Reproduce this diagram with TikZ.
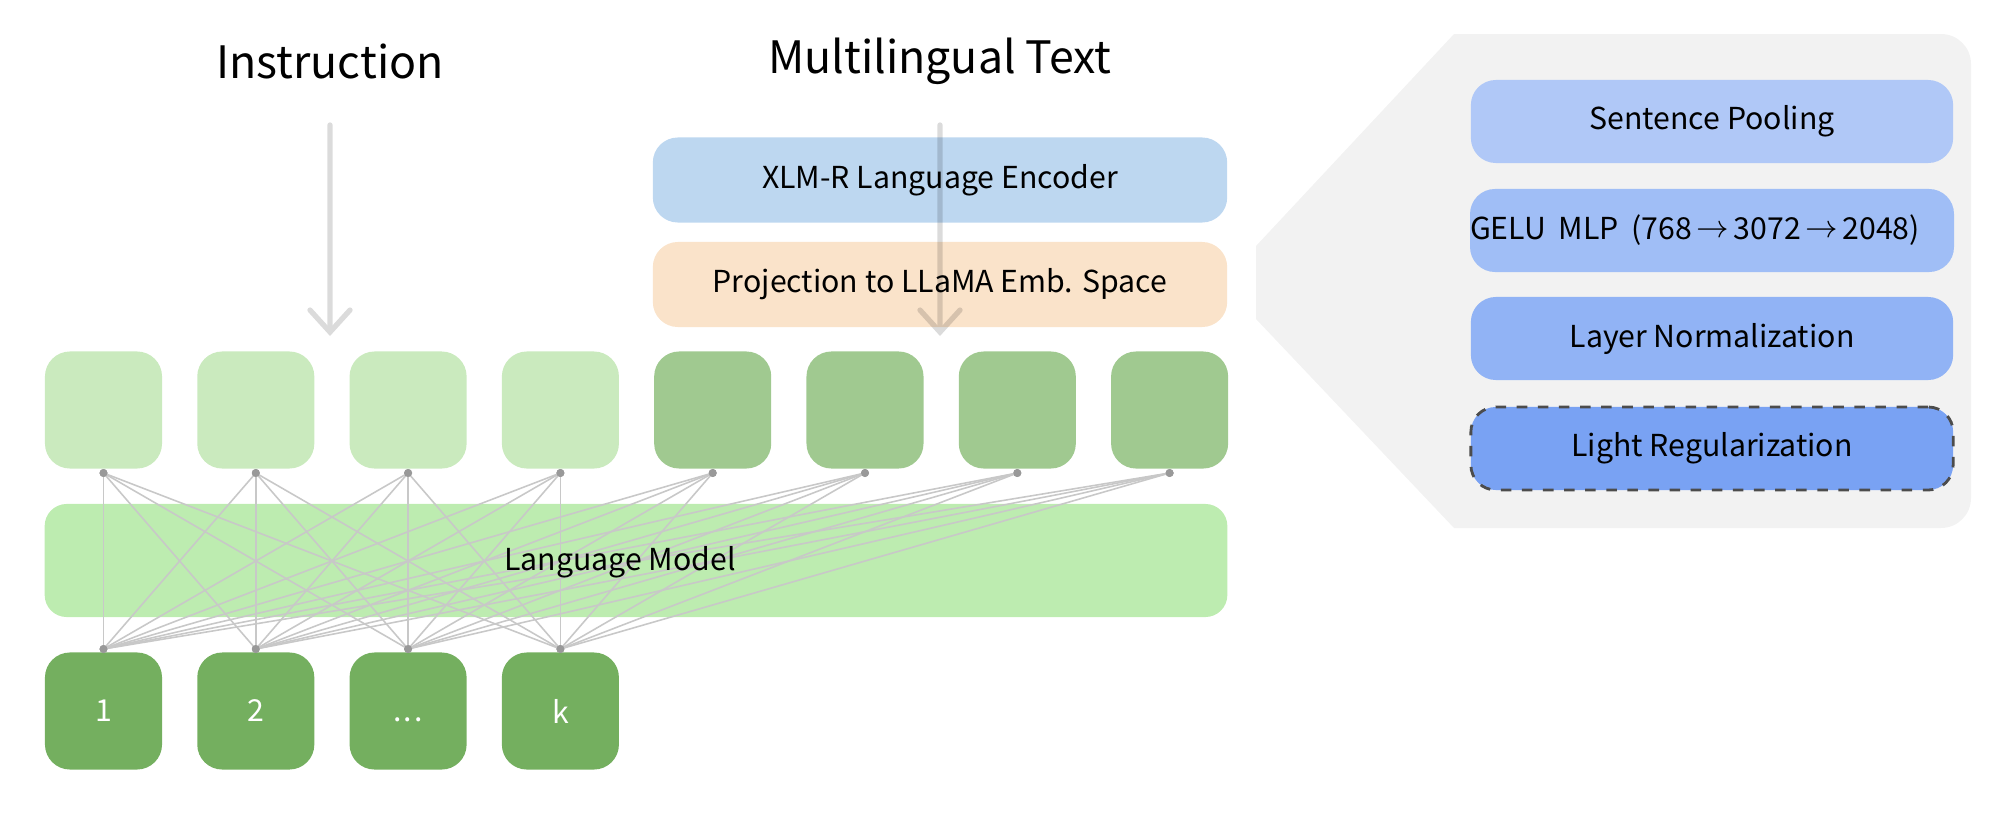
\documentclass[tikz,border=0pt]{standalone}
\usepackage{fontspec}
\setmainfont{Noto Sans CJK JP}
\usetikzlibrary{arrows.meta}
\definecolor{tokA}{HTML}{CAEABE}
\definecolor{tokB}{HTML}{A0C990}
\definecolor{tokC}{HTML}{74AF5F}
\definecolor{lmbar}{HTML}{BDECB0}
\definecolor{xlmc}{HTML}{BDD7F0}
\definecolor{projc}{HTML}{FAE3CA}
\definecolor{panelc}{HTML}{F2F2F2}
\definecolor{spc}{HTML}{B0C8F7}
\definecolor{gelc}{HTML}{A0BEF6}
\definecolor{lnc}{HTML}{91B3F5}
\definecolor{lrc}{HTML}{79A2F3}
\definecolor{linkc}{HTML}{C8C8C8}
\definecolor{dotc}{HTML}{999999}
\newcommand{\thinarr}{\hspace{0.15em}{\fontsize{8.6}{9}\selectfont\raisebox{0.12ex}{$\rightarrow$}}\hspace{0.15em}}
\begin{document}
\begin{tikzpicture}[x=0.01cm,y=-0.01cm,
  tokbox/.style={rounded corners=0.25cm, minimum width=1.17cm, minimum height=1.17cm, inner sep=0pt},
  bodytxt/.style={font=\fontsize{8.6}{10}\selectfont},
  wide/.style={rounded corners=0.25cm, minimum width=5.74cm, minimum height=0.85cm, inner sep=0pt, bodytxt},
  sidebox/.style={rounded corners=0.25cm, minimum width=4.82cm, minimum height=0.83cm, inner sep=0pt, bodytxt},
  title/.style={font=\fontsize{12.7}{15}\selectfont},
  dot/.style={circle, fill=dotc, inner sep=0pt, minimum size=0.08cm},
  link/.style={draw=linkc, line width=0.45pt},
  inarrow/.style={draw=black, line width=1.5pt, -{Straight Barb[length=0.22cm, width=0.4cm, line cap=round]}, line cap=round}
]
\useasboundingbox (0,0) rectangle (2000,812);

% right panel
\fill[panelc] (1454,34) -- (1941,34) to[out=0,in=90] (1971,64) -- (1971,498) to[out=270,in=0] (1941,528) -- (1454,528) -- (1256,319) -- (1256,246) -- cycle;
\node[sidebox, fill=spc] (sp) at (1712,121.5) {Sentence Pooling};
\node[sidebox, fill=gelc] (gelu) at (1712,230.5) {GELU\hspace{0.2em} MLP\hspace{0.2em} (768\thinarr3072\thinarr2048)\kern0.34cm};
\node[sidebox, fill=lnc] (ln) at (1712,338.5) {Layer Normalization};
\node[sidebox, fill=lrc, draw=black!70, dashed, line width=0.8pt] (lr) at (1712,448.5) {Light Regularization};

% titles
\node[title] (instr) at (330,61) {Instruction};
\node[title] (multi) at (940,61) {Multilingual Text};

% encoder boxes
\node[wide, fill=xlmc] (xlm) at (940,180) {XLM-R Language Encoder};
\node[wide, fill=projc] (proj) at (940,284.5) {Projection to LLaMA Emb. Space};

% language model bar
\node[rounded corners=0.22cm, fill=lmbar, minimum width=11.82cm, minimum height=1.13cm, inner sep=0pt] (lm) at (636,560.5) {};

% top tokens
\foreach \i/\c in {0/tokA,1/tokA,2/tokA,3/tokA,4/tokB,5/tokB,6/tokB,7/tokB} {
  \node[tokbox, fill=\c] (t\i) at ({103.5+152.3*\i},410) {};
}
% bottom tokens
\foreach \i/\lab in {0/1,1/2,2/{\vphantom{1}.\kern0.06em.\kern0.06em.},3/k} {
  \node[tokbox, fill=tokC, text=white, bodytxt] (b\i) at ({103.5+152.3*\i},711) {\lab};
}
% dots
\foreach \i in {0,...,7} { \node[dot] (td\i) at ({103.5+152.3*\i},473) {}; }
\foreach \i in {0,...,3} { \node[dot] (bd\i) at ({103.5+152.3*\i},649) {}; }
% links
\foreach \i in {0,...,7} {
  \foreach \j in {0,...,3} {
    \draw[link] (td\i.center) -- (bd\j.center);
  }
}
\foreach \i in {0,...,7} { \node[dot] at (td\i) {}; }
\foreach \i in {0,...,3} { \node[dot] at (bd\i) {}; }
\node[bodytxt] (lmlabel) at (620,562) {Language Model};

% input arrows
\coordinate (ia) at (330,125);
\coordinate (ib) at (330,336);
\coordinate (ma) at (940,125);
\coordinate (mb) at (940,336);
\begin{scope}[transparency group, opacity=0.14]
\draw[inarrow] (ia) -- (ib);
\draw[inarrow] (ma) -- (mb);
\end{scope}
\end{tikzpicture}
\end{document}
